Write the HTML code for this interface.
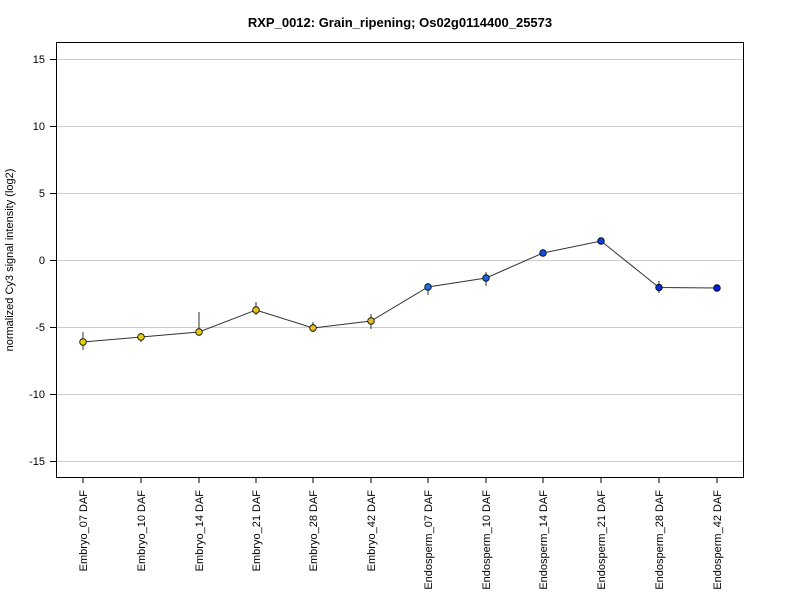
<!DOCTYPE html>
<html><head><style>body{margin:0;background:#fff}svg{display:block}</style></head><body>
<svg width="800" height="600" xmlns="http://www.w3.org/2000/svg" font-family="Liberation Sans, Arial, sans-serif">
<rect width="800" height="600" fill="#fff"/>
<text x="400" y="27" text-anchor="middle" font-weight="bold" font-size="13">RXP_0012: Grain_ripening; Os02g0114400_25573</text>
<g stroke="#cccccc" stroke-width="1">
<line x1="56" x2="743" y1="59.5" y2="59.5"/><line x1="56" x2="743" y1="126.5" y2="126.5"/>
<line x1="56" x2="743" y1="193.5" y2="193.5"/><line x1="56" x2="743" y1="260.5" y2="260.5"/>
<line x1="56" x2="743" y1="327.5" y2="327.5"/><line x1="56" x2="743" y1="394.5" y2="394.5"/>
<line x1="56" x2="743" y1="461.5" y2="461.5"/>
</g>
<rect x="56.5" y="42.5" width="687" height="435" fill="none" stroke="#000"/>
<g stroke="#000">
<line x1="50" x2="56" y1="59.5" y2="59.5"/><line x1="50" x2="56" y1="126.5" y2="126.5"/>
<line x1="50" x2="56" y1="193.5" y2="193.5"/><line x1="50" x2="56" y1="260.5" y2="260.5"/>
<line x1="50" x2="56" y1="327.5" y2="327.5"/><line x1="50" x2="56" y1="394.5" y2="394.5"/>
<line x1="50" x2="56" y1="461.5" y2="461.5"/>
</g>
<g font-size="11" text-anchor="end">
<text x="45" y="63">15</text><text x="45" y="130">10</text><text x="45" y="197">5</text>
<text x="45" y="264">0</text><text x="45" y="331">-5</text><text x="45" y="398">-10</text><text x="45" y="465">-15</text>
</g>
<text transform="translate(13,260) rotate(-90)" text-anchor="middle" font-size="11">normalized Cy3 signal intensity (log2)</text>
<g stroke="#000">
<line x1="83" x2="83" y1="477" y2="483"/><line x1="141" x2="141" y1="477" y2="483"/>
<line x1="199" x2="199" y1="477" y2="483"/><line x1="256" x2="256" y1="477" y2="483"/>
<line x1="313" x2="313" y1="477" y2="483"/><line x1="371" x2="371" y1="477" y2="483"/>
<line x1="428" x2="428" y1="477" y2="483"/><line x1="486" x2="486" y1="477" y2="483"/>
<line x1="543" x2="543" y1="477" y2="483"/><line x1="601" x2="601" y1="477" y2="483"/>
<line x1="659" x2="659" y1="477" y2="483"/><line x1="717" x2="717" y1="477" y2="483"/>
</g>
<g font-size="11" text-anchor="end">
<text transform="translate(87,490) rotate(-90)">Embryo_07 DAF</text>
<text transform="translate(145,490) rotate(-90)">Embryo_10 DAF</text>
<text transform="translate(203,490) rotate(-90)">Embryo_14 DAF</text>
<text transform="translate(260,490) rotate(-90)">Embryo_21 DAF</text>
<text transform="translate(317,490) rotate(-90)">Embryo_28 DAF</text>
<text transform="translate(375,490) rotate(-90)">Embryo_42 DAF</text>
<text transform="translate(432,490) rotate(-90)">Endosperm_07 DAF</text>
<text transform="translate(490,490) rotate(-90)">Endosperm_10 DAF</text>
<text transform="translate(547,490) rotate(-90)">Endosperm_14 DAF</text>
<text transform="translate(605,490) rotate(-90)">Endosperm_21 DAF</text>
<text transform="translate(663,490) rotate(-90)">Endosperm_28 DAF</text>
<text transform="translate(721,490) rotate(-90)">Endosperm_42 DAF</text>
</g>
<g stroke="#333" stroke-width="1">
<line x1="83" x2="83" y1="332" y2="350"/><line x1="141" x2="141" y1="333" y2="342"/>
<line x1="199" x2="199" y1="312" y2="335"/><line x1="256" x2="256" y1="302" y2="315"/>
<line x1="313" x2="313" y1="322" y2="332"/><line x1="371" x2="371" y1="314" y2="329"/>
<line x1="428" x2="428" y1="284" y2="295"/><line x1="486" x2="486" y1="272" y2="286"/>
<line x1="659" x2="659" y1="281" y2="293"/>
</g>
<polyline fill="none" stroke="#333" stroke-width="1" points="83,342 141,337 199,332 256,310 313,328 371,321 428,287 486,278 543,253 601,241 659,287.5 717,288"/>
<g stroke="#000" stroke-width="0.8">
<circle cx="83" cy="342" r="3.3" fill="#e8d000"/>
<circle cx="141" cy="337" r="3.3" fill="#e6cf10"/>
<circle cx="199" cy="332" r="3.3" fill="#e6ca10"/>
<circle cx="256" cy="310" r="3.3" fill="#e6c018"/>
<circle cx="313" cy="328" r="3.3" fill="#e6bc20"/>
<circle cx="371" cy="321" r="3.3" fill="#e0b828"/>
<circle cx="428" cy="287" r="3.3" fill="#2070e0"/>
<circle cx="486" cy="278" r="3.3" fill="#1a60e0"/>
<circle cx="543" cy="253" r="3.3" fill="#1050e0"/>
<circle cx="601" cy="241" r="3.3" fill="#0a40e0"/>
<circle cx="659" cy="287.5" r="3.3" fill="#0530e0"/>
<circle cx="717" cy="288" r="3.3" fill="#0020e0"/>
</g>
</svg>
</body></html>
